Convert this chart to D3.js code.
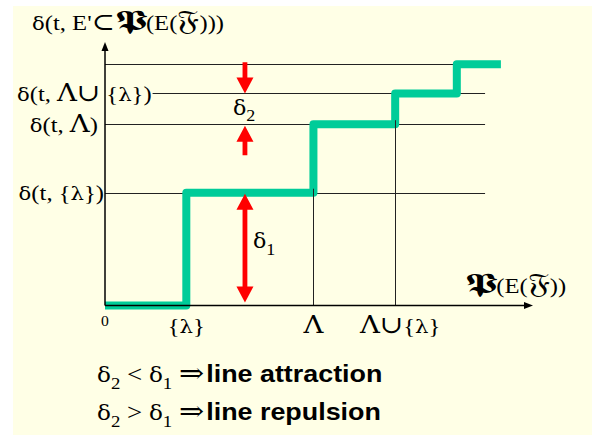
<!DOCTYPE html>
<html>
<head>
<meta charset="utf-8">
<script src="https://cdn.jsdelivr.net/npm/d3@7"></script>
<style>
  body { margin: 0; background: #fff; }
  svg text { white-space: pre; }
</style>
</head>
<body>
<svg id="chart" width="599" height="437"></svg>
<script>
// Step function: subsets ordered along the horizontal axis, delay level per subset
const xTickLabels = ["0", "{λ}", "Λ", "Λ\u222A{λ}"];
const xTickValues = [0, 1.9, 4.87, 6.78];
const stepX = [0, 1.9, 4.87, 6.78, 8.22, 9.25];
const stepLevels = [0, 4.28, 6.88, 8.05, 9.16];
const yTickLabels = ["δ(t, {λ})", "δ(t, Λ)", "δ(t, Λ\u222A {λ})"];
const yTickValues = [4.28, 6.88, 8.05];
const yTitle = "δ(t, E'\u2282\u{1D57B}(E(\u{1D509})))";
const xTitle = "\u{1D57B}(E(\u{1D509}))";
// Gaps marked with red arrows
const delta1 = { x: 3.27, from: 0, to: 4.28, label: "δ_1" };
const delta2 = { x: 3.27, from: 6.88, to: 8.05, label: "δ_2" };
const rules = [
  { lhs: "δ_2 < δ_1 \u21D2", text: "line attraction" },
  { lhs: "δ_2 > δ_1 \u21D2", text: "line repulsion" }
];

const SERIF = "'Liberation Serif', 'Times New Roman', serif";
const GREEK = "'DejaVu Serif', serif";
const SANS = "'Liberation Sans', Arial, sans-serif";

// how each kind of glyph run is set: family, size factor, horizontal stretch, weight
const runStyle = {
  txt:   { family: SERIF, k: 1.0,  sx: 1.12 },
  greek: { family: GREEK, k: 0.86, sx: 1.12 },
  op:    { family: GREEK, k: 1.1,  sx: 1.14 },
  sub:   { family: SERIF, k: 0.7,  sx: 1.12, dy: 0.28 },
  P:     { family: GREEK, k: 1.25, sx: 1.6 },
  F:     { family: GREEK, k: 1.25, sx: 1.25 },
  sans:  { family: SANS,  k: 1.0,  sx: 1.12, weight: "bold" }
};

const svg = d3.select("#chart");
svg.append("rect").attr("x", 13).attr("y", 6).attr("width", 579).attr("height", 429)
  .attr("fill", "#ffffe6");

const x = d3.scaleLinear().domain([0, 10]).range([105, 533]);
const y = d3.scaleLinear().domain([0, 10]).range([305.5, 42]);
const gridEnd = 8.88;
const g = svg.append("g");

function splitRuns(str) {
  const runs = [];
  for (let i = 0; i < str.length;) {
    const cp = str.codePointAt(i), ch = String.fromCodePoint(cp);
    i += ch.length;
    if (ch === "_") {
      const n = String.fromCodePoint(str.codePointAt(i)); i += n.length;
      runs.push({ s: n, kind: "sub" });
      continue;
    }
    let kind = "txt";
    if (/[δλ]/.test(ch)) kind = "greek";
    else if (/[Λ\u222A\u2282\u21D2]/.test(ch)) kind = "op";
    else if (cp === 0x1D57B) kind = "P";
    else if (cp > 0xffff) kind = "F";
    const last = runs[runs.length - 1];
    if (last && last.kind === kind && kind !== "P" && kind !== "F") last.s += ch;
    else runs.push({ s: ch, kind });
  }
  return runs;
}

// math-style text laid out run by run; "_c" makes a subscript
function rich(parent, str, size, anchor, px, py, extra) {
  const grp = parent.append("g");
  const runs = splitRuns(str);
  if (extra) runs.push(extra);
  let cx = 0;
  runs.forEach(r => {
    const st = runStyle[r.kind];
    const t = grp.append("text")
      .attr("transform", `translate(${cx + (r.dx || 0)},${(st.dy || 0) * size}) scale(${st.sx},1)`)
      .attr("font-family", st.family).attr("font-size", size * st.k)
      .attr("font-weight", st.weight || "normal").attr("fill", "#000")
      .attr("xml:space", "preserve")
      .text(r.s);
    cx += (r.dx || 0) + t.node().getComputedTextLength() * st.sx;
  });
  const shift = anchor === "end" ? -cx : anchor === "middle" ? -cx / 2 : 0;
  grp.attr("transform", `translate(${px + shift},${py})`);
  grp.right = px + shift + cx;
  return grp;
}

// y-axis labels
const labelAnchor = ["end", "end", "start"];
const labelX = [x(0) - 1, x(0) - 7, 17];
const labelNodes = yTickLabels.map((t, i) =>
  rich(g, t, 22, labelAnchor[i], labelX[i], y(yTickValues[i]) + 7.5));

// horizontal guide lines at each level
yTickValues.concat([stepLevels[4]]).forEach((v, i) => {
  const x0 = i === 2 ? labelNodes[2].right + 1 : x(0);
  const yy = Math.round(y(v)) + 0.5;
  g.append("line")
    .attr("x1", x0).attr("x2", x(gridEnd)).attr("y1", yy).attr("y2", yy)
    .attr("stroke", "#222").attr("stroke-width", 1);
});

// step curve
const pts = stepLevels.map((v, i) => [stepX[i], v]);
pts.push([stepX[stepX.length - 1], stepLevels[stepLevels.length - 1]]);
const line = d3.line().x(d => x(d[0])).y(d => y(d[1])).curve(d3.curveStepAfter);
g.append("path").datum(pts)
  .attr("d", line)
  .attr("fill", "none")
  .attr("stroke", "#00cc99")
  .attr("stroke-width", 8)
  .attr("stroke-linejoin", "round")
  .attr("stroke-linecap", "butt");

// drop lines from the rises down to the axis
xTickValues.forEach((v, i) => {
  if (i < 2) return;
  const xx = Math.round(x(v)) + 0.5;
  g.append("line")
    .attr("x1", xx).attr("x2", xx)
    .attr("y1", y(stepLevels[i - 1]) - 4).attr("y2", y(0))
    .attr("stroke", "#222").attr("stroke-width", 1);
});

// axes with arrow heads
g.append("line").attr("x1", x(0)).attr("x2", x(10) - 6).attr("y1", y(0)).attr("y2", y(0))
  .attr("stroke", "#000").attr("stroke-width", 1.5);
g.append("line").attr("x1", x(0)).attr("x2", x(0)).attr("y1", y(0)).attr("y2", y(10) + 6)
  .attr("stroke", "#000").attr("stroke-width", 1.5);
g.append("path")
  .attr("d", `M${x(10)},${y(0)}L${x(10) - 9},${y(0) - 3.5}L${x(10) - 9},${y(0) + 3.5}Z`)
  .attr("fill", "#000");
g.append("path")
  .attr("d", `M${x(0)},${y(10)}L${x(0) - 3.5},${y(10) + 9}L${x(0) + 3.5},${y(10) + 9}Z`)
  .attr("fill", "#000");

// red arrows
const HL = 16, HW = 8.5, SW = 2.4;
function arrow(xp, yTail, yTip) {
  const hb = yTip - Math.sign(yTip - yTail) * HL;
  return `M${xp - SW},${yTail}L${xp + SW},${yTail}L${xp + SW},${hb}L${xp + HW},${hb}` +
    `L${xp},${yTip}L${xp - HW},${hb}L${xp - SW},${hb}Z`;
}
function doubleArrow(xp, yA, yB) {
  const hA = yA + HL, hB = yB - HL;
  return `M${xp},${yA}L${xp + HW},${hA}L${xp + SW},${hA}L${xp + SW},${hB}L${xp + HW},${hB}` +
    `L${xp},${yB}L${xp - HW},${hB}L${xp - SW},${hB}L${xp - SW},${hA}L${xp - HW},${hA}Z`;
}
const red = "#ff0000";
g.append("path").attr("fill", red)
  .attr("d", doubleArrow(x(delta1.x), y(delta1.to) + 1, y(delta1.from) - 3));
g.append("path").attr("fill", red)
  .attr("d", arrow(x(delta2.x), y(stepLevels[4]) - 2, y(delta2.to)));
g.append("path").attr("fill", red)
  .attr("d", arrow(x(delta2.x), y(delta2.from) + 31, y(delta2.from) + 1.5));

rich(g, delta2.label, 23, "start", x(delta2.x) - 12, y((delta2.from + delta2.to) / 2) + 6);
rich(g, delta1.label, 23, "start", x(delta1.x) + 8, y((delta1.from + delta1.to) / 2) - 1);

// x tick labels
xTickLabels.forEach((t, i) => {
  rich(g, t, i === 0 ? 14 : 22, "middle",
    x(xTickValues[i]) + (i === 3 ? 5 : 0), i === 0 ? 326 : 333);
});

// axis titles
rich(g, yTitle, 22, "start", 32, 30);
rich(g, xTitle, 22, "start", 465, 293);

// rules below the chart
rules.forEach((r, i) => {
  rich(g, r.lhs, 24, "start", 97, 382 + i * 38, { s: r.text, kind: "sans", dx: 2 });
});
</script>
</body>
</html>
